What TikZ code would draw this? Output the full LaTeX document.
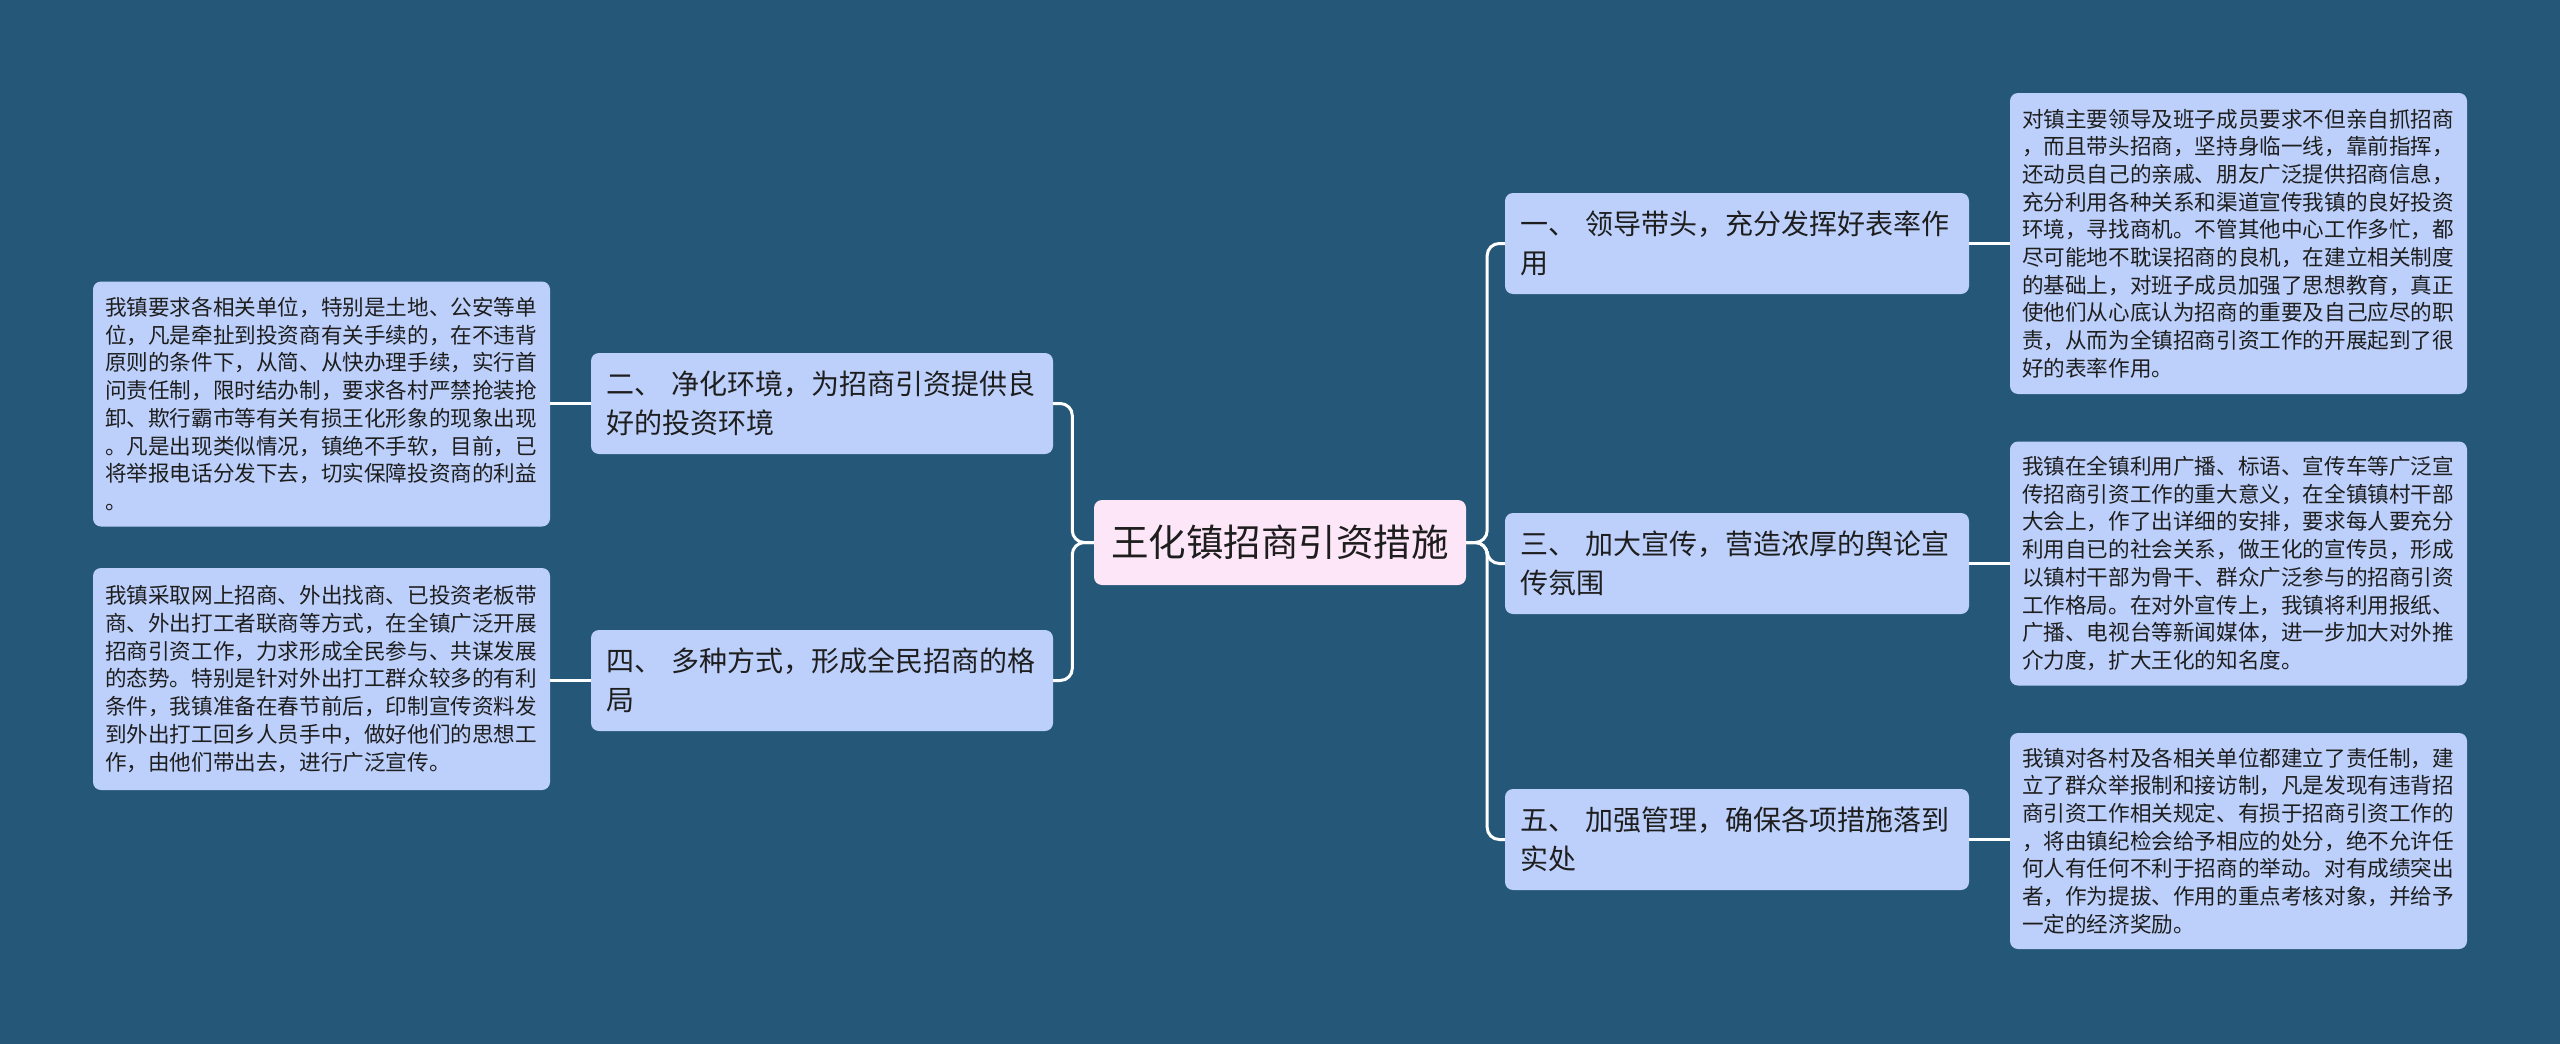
\documentclass[tikz,border=0pt]{standalone}
\usepackage{fontspec}
\setmainfont{Noto Sans CJK SC}
\definecolor{bgc}{HTML}{245778}
\definecolor{nodec}{HTML}{BDD0FB}
\definecolor{rootc}{HTML}{FDE6F8}
\definecolor{txtc}{HTML}{1E1E1E}
\begin{document}
\begin{tikzpicture}[x=1pt,y=-1pt,
  root/.style={draw=none,fill=rootc,rounded corners=8pt,minimum width=372pt,minimum height=85pt,
    inner sep=0pt,font=\fontsize{37.5}{44}\selectfont,text=txtc,align=center},
  mid/.style={draw=none,fill=nodec,rounded corners=8pt,minimum width=464pt,minimum height=101pt,
    inner xsep=15pt,inner ysep=0pt,text width=434pt,align=left,font=\fontsize{28}{39}\selectfont,text=txtc},
  leaf/.style={draw=none,fill=nodec,rounded corners=8pt,minimum width=457pt,
    inner xsep=12pt,inner ysep=0pt,text width=433pt,align=left,font=\fontsize{21.6}{27.7}\selectfont,text=txtc},
  conn/.style={draw=white,line width=3pt,rounded corners=12pt}]
\fill[bgc] (0,0) rectangle (2560,1044);
\useasboundingbox (0,0) rectangle (2560,1044);

\node[root] (c) at (1280,542.5) {王化镇招商引资措施};

\node[mid,minimum width=462pt,text width=432pt] (n2) at (822,403.5) {二、 净化环境，为招商引资提供良\\好的投资环境};
\node[mid,minimum width=462pt,text width=432pt] (n4) at (822,680.5) {四、 多种方式，形成全民招商的格\\局};

\node[mid] (n1) at (1737,243.5) {一、 领导带头，充分发挥好表率作\\用};
\node[mid] (n3) at (1737,563.5) {三、 加大宣传，营造浓厚的舆论宣\\传氛围};
\node[mid] (n5) at (1737,839.5) {五、 加强管理，确保各项措施落到\\实处};

\node[leaf,minimum height=245pt] (l2) at (321.5,404) {我镇要求各相关单位，特别是土地、公安等单\\位，凡是牵扯到投资商有关手续的，在不违背\\原则的条件下，从简、从快办理手续，实行首\\问责任制，限时结办制，要求各村严禁抢装抢\\卸、欺行霸市等有关有损王化形象的现象出现\\。凡是出现类似情况，镇绝不手软，目前，已\\将举报电话分发下去，切实保障投资商的利益\\。};
\node[leaf,minimum height=222pt] (l4) at (321.5,679) {我镇采取网上招商、外出找商、已投资老板带\\商、外出打工者联商等方式，在全镇广泛开展\\招商引资工作，力求形成全民参与、共谋发展\\的态势。特别是针对外出打工群众较多的有利\\条件，我镇准备在春节前后，印制宣传资料发\\到外出打工回乡人员手中，做好他们的思想工\\作，由他们带出去，进行广泛宣传。};

\node[leaf,minimum height=301pt] (l1) at (2238.5,243.5) {对镇主要领导及班子成员要求不但亲自抓招商\\，而且带头招商，坚持身临一线，靠前指挥，\\还动员自己的亲戚、朋友广泛提供招商信息，\\充分利用各种关系和渠道宣传我镇的良好投资\\环境，寻找商机。不管其他中心工作多忙，都\\尽可能地不耽误招商的良机，在建立相关制度\\的基础上，对班子成员加强了思想教育，真正\\使他们从心底认为招商的重要及自己应尽的职\\责，从而为全镇招商引资工作的开展起到了很\\好的表率作用。};
\node[leaf,minimum height=244pt] (l3) at (2238.5,563.5) {我镇在全镇利用广播、标语、宣传车等广泛宣\\传招商引资工作的重大意义，在全镇镇村干部\\大会上，作了出详细的安排，要求每人要充分\\利用自已的社会关系，做王化的宣传员，形成\\以镇村干部为骨干、群众广泛参与的招商引资\\工作格局。在对外宣传上，我镇将利用报纸、\\广播、电视台等新闻媒体，进一步加大对外推\\介力度，扩大王化的知名度。};
\node[leaf,minimum height=216pt] (l5) at (2238.5,841) {我镇对各村及各相关单位都建立了责任制，建\\立了群众举报制和接访制，凡是发现有违背招\\商引资工作相关规定、有损于招商引资工作的\\，将由镇纪检会给予相应的处分，绝不允许任\\何人有任何不利于招商的举动。对有成绩突出\\者，作为提拔、作用的重点考核对象，并给予\\一定的经济奖励。};

% connectors
\coordinate (rb) at ([xshift=21pt]c.east);
\coordinate (lb) at ([xshift=-21.5pt]c.west);
\draw[conn] (c.east) -- (rb) |- (n1.west);
\draw[conn] (c.east) -- (rb) |- (n3.west);
\draw[conn] (c.east) -- (rb) |- (n5.west);
\draw[conn] (c.west) -- (lb) |- (n2.east);
\draw[conn] (c.west) -- (lb) |- (n4.east);
\draw[conn] (n1.east) -- (l1.west |- n1.east);
\draw[conn] (n3.east) -- (l3.west |- n3.east);
\draw[conn] (n5.east) -- (l5.west |- n5.east);
\draw[conn] (n2.west) -- (l2.east |- n2.west);
\draw[conn] (n4.west) -- (l4.east |- n4.west);
\end{tikzpicture}
\end{document}
